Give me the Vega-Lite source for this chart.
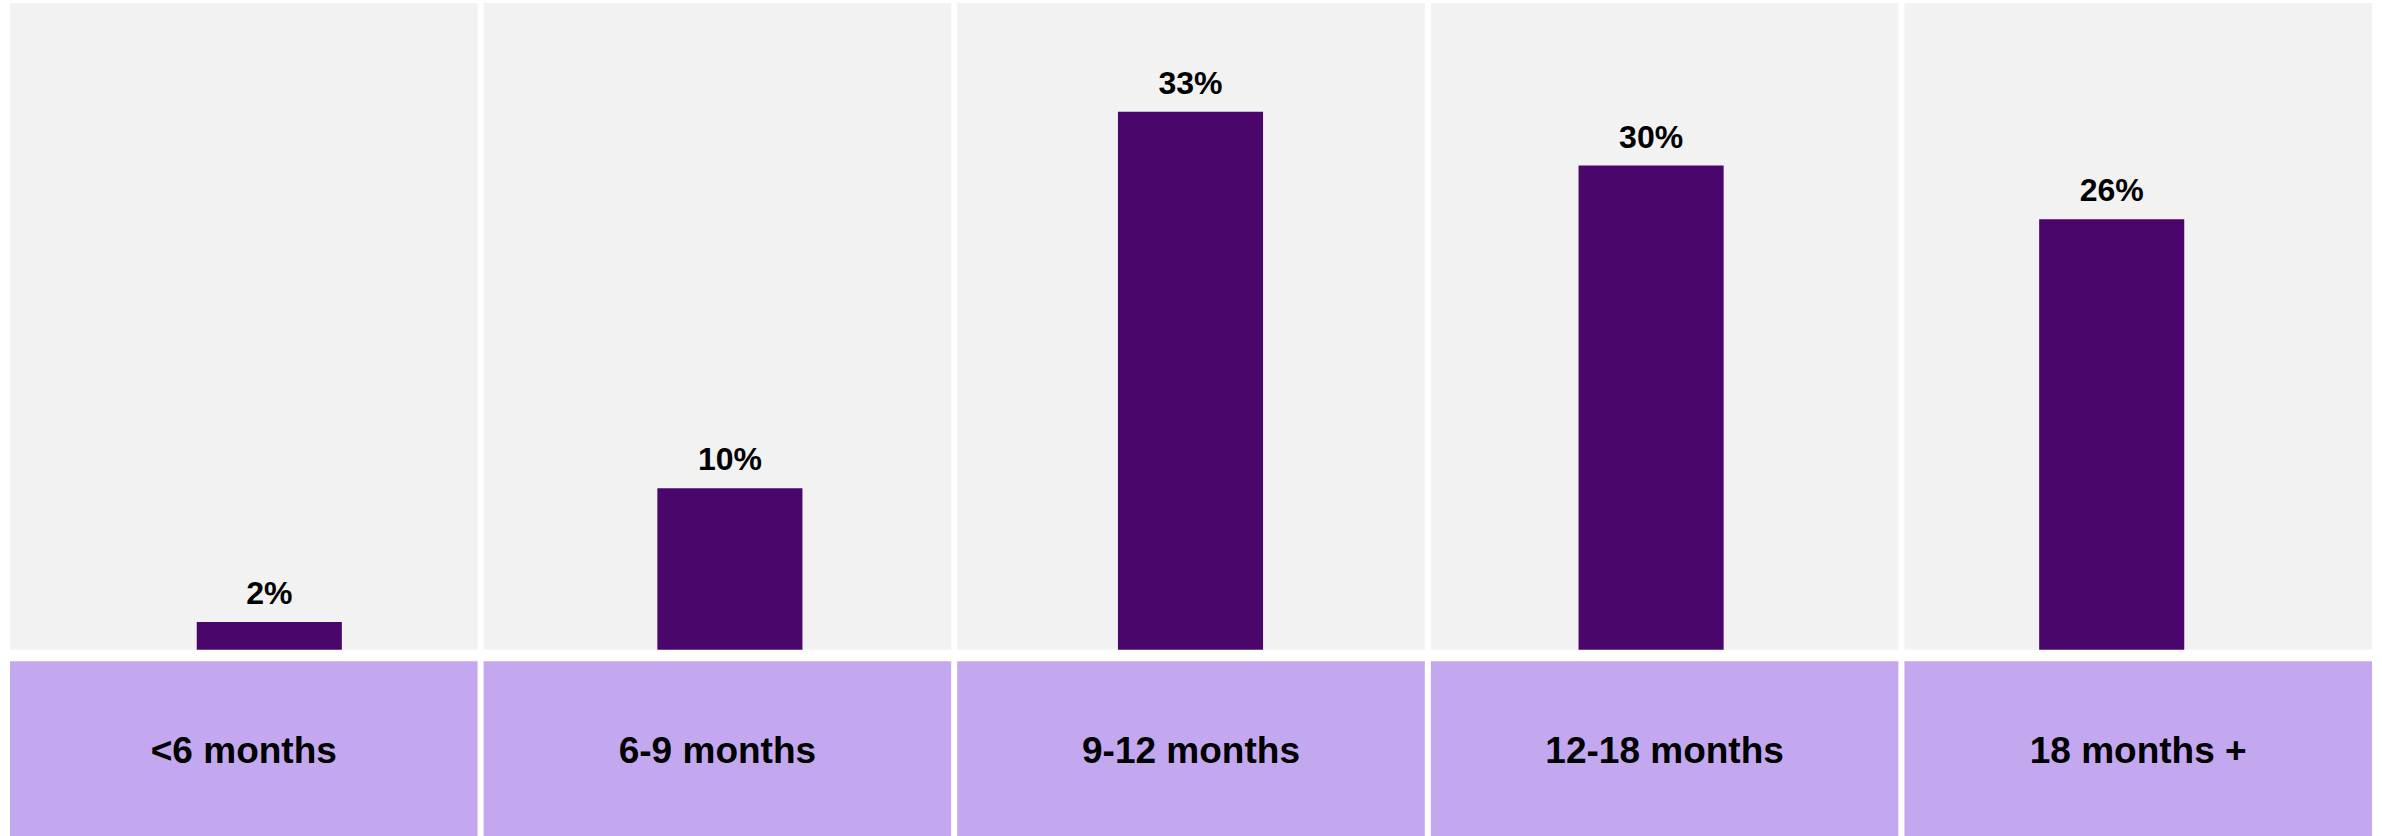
{
  "$schema": "https://vega.github.io/schema/vega-lite/v6.json",
  "width": 2382,
  "height": 836,
  "autosize": {"type": "fit", "contains": "padding"},
  "padding": {"left": 10, "right": 10, "top": 3, "bottom": 0},
  "background": "white",
  "config": {"view": {"stroke": null}, "font": "Liberation Sans"},
  "data": {
    "values": [
      {"period": "<6 months", "value": 1.7, "label": "2%"},
      {"period": "6-9 months", "value": 9.9, "label": "10%"},
      {"period": "9-12 months", "value": 33.0, "label": "33%"},
      {"period": "12-18 months", "value": 29.7, "label": "30%"},
      {"period": "18 months +", "value": 26.4, "label": "26%"}
    ]
  },
  "resolve": {"scale": {"x": "independent"}},
  "layer": [
    {
      "encoding": {
        "x": {
          "field": "period",
          "type": "nominal",
          "sort": null,
          "axis": null,
          "scale": {"paddingInner": 0.0127, "paddingOuter": 0}
        }
      },
      "layer": [
        {
          "mark": {"type": "rect", "color": "#f2f2f2"},
          "encoding": {
            "y": {
              "datum": 39.67,
              "type": "quantitative",
              "axis": null,
              "scale": {"domain": [-11.43, 39.67], "nice": false, "zero": false}
            },
            "y2": {"datum": 0}
          }
        },
        {
          "mark": {"type": "rect", "color": "#c3a8f0"},
          "encoding": {
            "y": {"datum": -0.71, "type": "quantitative"},
            "y2": {"datum": -11.43}
          }
        },
        {
          "mark": {
            "type": "text",
            "fontSize": 37,
            "fontWeight": "bold",
            "color": "black",
            "baseline": "alphabetic",
            "align": "center"
          },
          "encoding": {
            "y": {"datum": -6.93, "type": "quantitative"},
            "text": {"field": "period"}
          }
        }
      ]
    },
    {
      "encoding": {
        "x": {
          "field": "period",
          "type": "nominal",
          "sort": null,
          "axis": null,
          "scale": {"range": [29, 2332], "paddingInner": 0, "paddingOuter": 0}
        }
      },
      "layer": [
        {
          "mark": {"type": "bar", "color": "#4a066a", "width": {"band": 0.315}},
          "encoding": {
            "y": {"field": "value", "type": "quantitative"},
            "y2": {"datum": 0}
          }
        },
        {
          "mark": {
            "type": "text",
            "fontSize": 32,
            "fontWeight": "bold",
            "color": "black",
            "baseline": "alphabetic",
            "align": "center",
            "dy": -18
          },
          "encoding": {
            "y": {"field": "value", "type": "quantitative"},
            "text": {"field": "label"}
          }
        }
      ]
    }
  ]
}
